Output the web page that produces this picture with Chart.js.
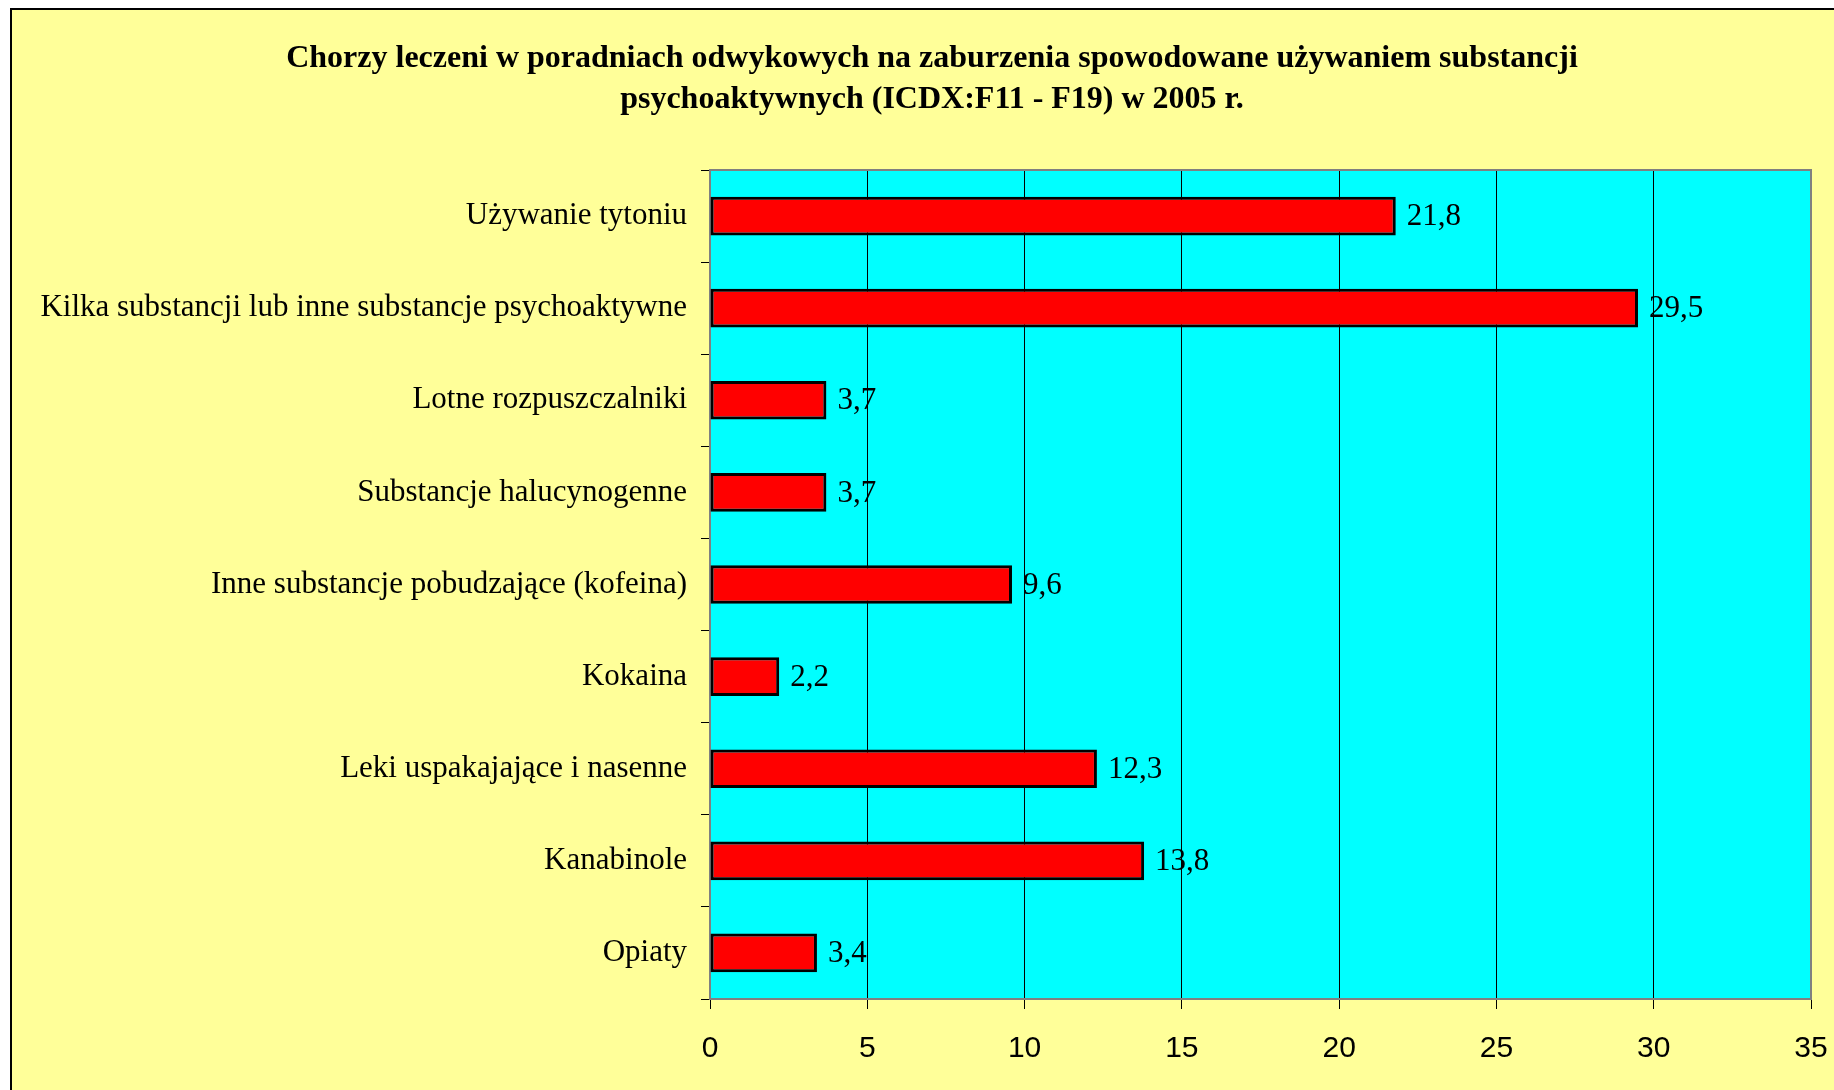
<!DOCTYPE html>
<html>
<head>
<meta charset="utf-8">
<script src="https://cdn.jsdelivr.net/npm/chart.js@4"></script>
<style>
  html, body { margin: 0; padding: 0; background: #fff; }
  #wrap { width: 1834px; height: 1090px; }
</style>
</head>
<body>
<div id="wrap"><canvas id="chart" width="1834" height="1090"></canvas></div>
<script>
// dane
const categories = [
  "Używanie tytoniu",
  "Kilka substancji lub inne substancje psychoaktywne",
  "Lotne rozpuszczalniki",
  "Substancje halucynogenne",
  "Inne substancje pobudzające (kofeina)",
  "Kokaina",
  "Leki uspakajające i nasenne",
  "Kanabinole",
  "Opiaty"
];
const values = [21.8, 29.5, 3.7, 3.7, 9.6, 2.2, 12.3, 13.8, 3.4];
const xTicks = [0, 5, 10, 15, 20, 25, 30, 35];
const titleLines = [
  "Chorzy leczeni w poradniach odwykowych na zaburzenia spowodowane używaniem substancji",
  "psychoaktywnych (ICDX:F11 - F19) w 2005 r."
];

// tło strony + tło obszaru wykresu + tytuł
const backgrounds = {
  id: "backgrounds",
  beforeDraw(chart) {
    const { ctx, chartArea: a } = chart;
    ctx.save();
    ctx.fillStyle = "#ffffff";
    ctx.fillRect(0, 0, chart.width, chart.height);
    ctx.fillStyle = "#FFFF99";
    ctx.fillRect(11, 9, chart.width - 11, chart.height - 9);
    ctx.strokeStyle = "#000000";
    ctx.lineWidth = 2;
    ctx.beginPath();
    ctx.moveTo(11, chart.height);
    ctx.lineTo(11, 9);
    ctx.lineTo(chart.width, 9);
    ctx.stroke();
    ctx.fillStyle = "#00FFFF";
    ctx.fillRect(a.left, a.top, a.right - a.left, a.bottom - a.top);
    ctx.restore();
  },
  afterDraw(chart) {
    const { ctx, chartArea: a } = chart;
    ctx.save();
    ctx.strokeStyle = "#808080";
    ctx.lineWidth = 2;
    ctx.beginPath();
    ctx.moveTo(a.left, a.top);
    ctx.lineTo(a.right, a.top);
    ctx.lineTo(a.right, a.bottom);
    ctx.stroke();

    ctx.font = "bold 32px 'Liberation Serif', 'Times New Roman', serif";
    ctx.fillStyle = "#000";
    ctx.textAlign = "center";
    ctx.textBaseline = "middle";
    titleLines.forEach((line, i) => ctx.fillText(line, 932, 59 + i * 41));
    ctx.restore();
  }
};

// etykiety wartości
const valueLabels = {
  id: "valueLabels",
  afterDatasetsDraw(chart) {
    const { ctx } = chart;
    const meta = chart.getDatasetMeta(0);
    ctx.save();
    ctx.font = "31px 'Liberation Serif', 'Times New Roman', serif";
    ctx.fillStyle = "#000";
    ctx.textBaseline = "middle";
    meta.data.forEach((bar, i) => {
      ctx.fillText(String(values[i]).replace(".", ","), bar.x + 11, bar.y + 1);
    });
    ctx.restore();
  }
};

new Chart(document.getElementById("chart"), {
  type: "bar",
  data: {
    labels: categories,
    datasets: [{
      data: values,
      backgroundColor: "#FF0000",
      borderColor: "#000000",
      borderWidth: 3,
      borderSkipped: false,
      barPercentage: 0.42,
      categoryPercentage: 1
    }]
  },
  options: {
    indexAxis: "y",
    responsive: false,
    animation: false,
    layout: { padding: { top: 170, right: 23, left: 0, bottom: 0 } },
    plugins: {
      legend: { display: false },
      tooltip: { enabled: false },
      title: { display: false }
    },
    scales: {
      x: {
        min: 0,
        max: 35,
        afterBuildTicks: s => { s.ticks = xTicks.map(v => ({ value: v })); },
        afterFit: s => { s.height = 91; s.paddingLeft = 0; s.paddingRight = 0; },
        grid: { color: "#000000", lineWidth: 1, tickLength: 10, drawTicks: true },
        border: { display: true, color: "#808080", width: 2 },
        ticks: {
          color: "#000",
          padding: 22,
          font: { family: "'Liberation Sans', Arial, sans-serif", size: 30 }
        }
      },
      y: {
        offset: true,
        afterFit: s => { s.width = 710; },
        grid: { offset: true, drawOnChartArea: false, drawTicks: true, tickLength: 9, color: "#000000" },
        border: { display: true, color: "#808080", width: 2 },
        ticks: {
          color: "#000",
          padding: 14,
          font: { family: "'Liberation Serif', 'Times New Roman', serif", size: 31 }
        }
      }
    }
  },
  plugins: [backgrounds, valueLabels]
});
</script>
</body>
</html>
